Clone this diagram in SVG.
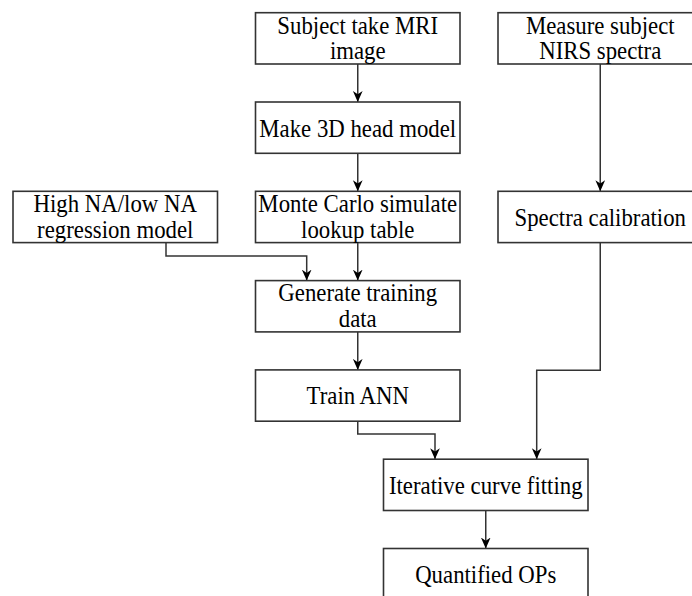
<svg xmlns="http://www.w3.org/2000/svg" width="692" height="596" viewBox="0 0 692 596">
<style>
.box{fill:#ffffff;stroke:#333333;stroke-width:1.6}
.lbl{font-family:"Liberation Serif","Times New Roman",serif;font-size:22.8px;fill:#000000;text-anchor:middle}
.edge{fill:none;stroke:#333333;stroke-width:1.5}
</style>
<defs>
<marker id="arr" viewBox="0 0 10 10" refX="10" refY="5" markerWidth="11" markerHeight="11" markerUnits="userSpaceOnUse" orient="auto">
<path d="M0,0.6 L10,5 L0,9.4 L3,5 Z" fill="#000000" stroke="none"/>
</marker>
</defs>
<rect width="692" height="596" fill="#ffffff"/>
<g id="connectors">
<path class="edge" marker-end="url(#arr)" d="M357.75,64 L357.75,102"/>
<path class="edge" marker-end="url(#arr)" d="M357.75,153.3 L357.75,191.3"/>
<path class="edge" marker-end="url(#arr)" d="M357.75,242.6 L357.75,280.6"/>
<path class="edge" marker-end="url(#arr)" d="M166,242.6 L166,256 L306.7,256 L306.7,280.6"/>
<path class="edge" marker-end="url(#arr)" d="M357.75,331.9 L357.75,369.9"/>
<path class="edge" marker-end="url(#arr)" d="M357.75,421.2 L357.75,434 L435,434 L435,459.2"/>
<path class="edge" marker-end="url(#arr)" d="M600.25,64 L600.25,191.3"/>
<path class="edge" marker-end="url(#arr)" d="M600.25,242.6 L600.25,370.3 L536.7,370.3 L536.7,459.2"/>
<path class="edge" marker-end="url(#arr)" d="M485.75,510.5 L485.75,548.5"/>
</g>
<g id="n_mri">
<rect class="box" x="255.5" y="12.7" width="204.5" height="51.3"/>
<text class="lbl" transform="matrix(1 0 0 1.06 357.75 33.5)">Subject take MRI</text>
<text class="lbl" transform="matrix(1 0 0 1.06 357.75 59)">image</text>
</g>
<g id="n_nirs">
<rect class="box" x="498" y="12.7" width="204.5" height="51.3"/>
<text class="lbl" transform="matrix(1 0 0 1.06 600.25 33.5)">Measure subject</text>
<text class="lbl" transform="matrix(1 0 0 1.06 600.25 59)">NIRS spectra</text>
</g>
<g id="n_head">
<rect class="box" x="255.5" y="102" width="204.5" height="51.3"/>
<text class="lbl" transform="matrix(1 0 0 1.06 357.75 136.6)">Make 3D head model</text>
</g>
<g id="n_regr">
<rect class="box" x="13" y="191.3" width="204.5" height="51.3"/>
<text class="lbl" transform="matrix(1 0 0 1.06 115.25 212.1)">High NA/low NA</text>
<text class="lbl" transform="matrix(1 0 0 1.06 115.25 237.6)">regression model</text>
</g>
<g id="n_mc">
<rect class="box" x="255.5" y="191.3" width="204.5" height="51.3"/>
<text class="lbl" transform="matrix(1 0 0 1.06 357.75 212.1)">Monte Carlo simulate</text>
<text class="lbl" transform="matrix(1 0 0 1.06 357.75 237.6)">lookup table</text>
</g>
<g id="n_calib">
<rect class="box" x="498" y="191.3" width="204.5" height="51.3"/>
<text class="lbl" transform="matrix(1 0 0 1.06 600.25 225.6)">Spectra calibration</text>
</g>
<g id="n_gen">
<rect class="box" x="255.5" y="280.6" width="204.5" height="51.3"/>
<text class="lbl" transform="matrix(1 0 0 1.06 357.75 301.4)">Generate training</text>
<text class="lbl" transform="matrix(1 0 0 1.06 357.75 326.9)">data</text>
</g>
<g id="n_ann">
<rect class="box" x="255.5" y="369.9" width="204.5" height="51.3"/>
<text class="lbl" transform="matrix(1 0 0 1.06 357.75 404.3)">Train ANN</text>
</g>
<g id="n_fit">
<rect class="box" x="383.5" y="459.2" width="204.5" height="51.3"/>
<text class="lbl" transform="matrix(1 0 0 1.06 485.75 493.6)">Iterative curve fitting</text>
</g>
<g id="n_ops">
<rect class="box" x="383.5" y="548.5" width="204.5" height="51.3"/>
<text class="lbl" transform="matrix(1 0 0 1.06 485.75 582.9)">Quantified OPs</text>
</g>
</svg>
